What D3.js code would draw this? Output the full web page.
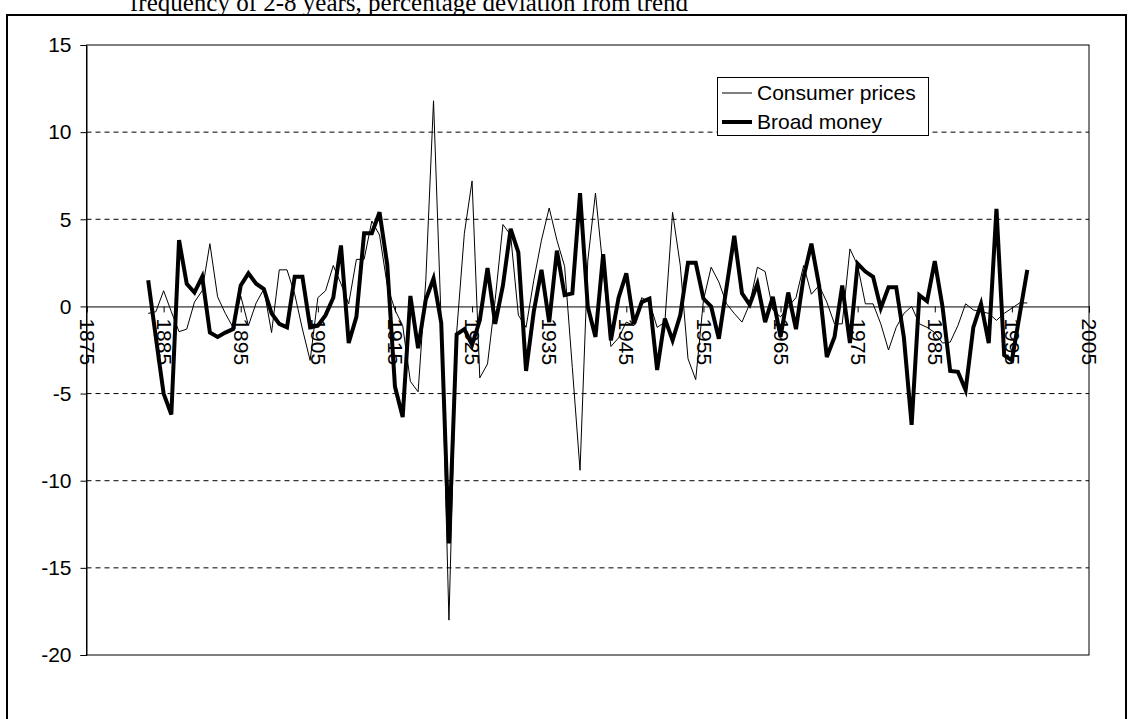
<!DOCTYPE html>
<html><head><meta charset="utf-8">
<script src="https://cdn.jsdelivr.net/npm/d3@7"></script>
<style>body{margin:0;background:#fff}svg{display:block}</style>
</head><body>
<svg id="c" width="1131" height="719"></svg>
<script>
const title = "frequency of 2-8 years, percentage deviation from trend";
const startYear = 1883;
const consumerPrices = [
 -0.4,-0.3,0.9,-0.3,-1.45,-1.3,0.25,0.9,3.6,0.55,
 -0.4,-1.2,0.6,-1.1,0.2,1.0,-1.5,2.1,2.1,0.7,
 -1.3,-3.1,0.5,0.9,2.35,1.3,0.15,2.7,2.7,4.9,
 4.1,1.2,-0.2,-1.1,-4.3,-4.9,1.5,11.8,-1.0,-18.0,
 -1.5,4.2,7.2,-4.1,-3.3,0.4,4.7,4.1,-0.5,-1.2,
 1.5,3.8,5.65,3.8,2.3,-3.5,-9.4,2.6,6.5,2.1,
 -2.3,-1.8,-0.9,-1.1,0.5,0.25,-1.2,-0.9,5.4,2.35,
 -3.0,-4.2,0.35,2.25,1.4,0.15,-0.4,-0.9,0.15,2.25,
 2.0,-0.2,-0.6,0.0,0.5,2.35,0.7,1.2,0.25,-1.0,
 -1.0,3.3,2.35,0.15,0.15,-1.0,-2.5,-1.2,-0.4,0.0,
 -1.0,-1.2,-1.5,-2.1,-2.05,-1.1,0.15,-0.2,-0.3,-0.4,
 -0.8,-0.4,-0.1,0.2,0.2
];
const broadMoney = [
 1.5,-1.8,-5.0,-6.2,3.8,1.3,0.8,1.7,-1.5,-1.75,
 -1.5,-1.3,1.2,1.9,1.3,1.0,-0.4,-1.0,-1.2,1.7,
 1.7,-1.2,-1.1,-0.5,0.5,3.5,-2.1,-0.6,4.2,4.2,
 5.4,2.4,-4.6,-6.35,0.6,-2.4,0.4,1.6,-0.95,-13.6,
 -1.6,-1.3,-2.2,-0.8,2.2,-1.0,1.2,4.45,3.1,-3.7,
 -0.3,2.1,-0.9,3.2,0.65,0.75,6.5,0.0,-1.75,3.0,
 -1.95,0.5,1.9,-1.0,0.25,0.45,-3.65,-0.7,-1.95,-0.5,
 2.5,2.5,0.45,0.0,-1.85,1.1,4.05,0.75,0.1,1.3,
 -0.9,0.55,-1.75,0.8,-1.3,1.7,3.6,1.2,-2.9,-1.75,
 1.2,-2.1,2.45,2.0,1.7,-0.1,1.1,1.1,-1.8,-6.8,
 0.65,0.3,2.6,0.0,-3.7,-3.75,-4.8,-1.2,0.15,-2.1,
 5.6,-2.8,-3.1,-0.5,2.1
];
const xTicks = [1875,1885,1895,1905,1915,1925,1935,1945,1955,1965,1975,1985,1995,2005];
const yTicks = [15,10,5,0,-5,-10,-15,-20];
const seriesNames = ["Consumer prices","Broad money"];

const svg = d3.select("#c");
const x = d3.scaleLinear().domain([1875,2005]).range([86.5,1089]);
const y = d3.scaleLinear().domain([-20,15]).range([655,45]);
const font = "Arial, 'Liberation Sans', sans-serif";
const fmt = d => String(d);

// outer frame
svg.append("rect").attr("x",7).attr("y",15).attr("width",1119).attr("height",730)
  .attr("fill","none").attr("stroke","#000").attr("stroke-width",2);

// title (cut at top)
svg.append("text").attr("x",130).attr("y",11)
  .attr("font-family","'Liberation Serif', 'Times New Roman', serif").attr("font-size",25)
  .text(title);

// gridlines
svg.append("g").selectAll("line").data(yTicks.filter(d=>d!==0 && d!==15 && d!==-20)).join("line")
  .attr("x1",x(1875)).attr("x2",x(2005)).attr("y1",d=>y(d)).attr("y2",d=>y(d))
  .attr("stroke","#000").attr("stroke-width",1).attr("stroke-dasharray","5,4");

// plot area border
svg.append("rect").attr("x",x(1875)).attr("y",y(15)).attr("width",x(2005)-x(1875)).attr("height",y(-20)-y(15))
  .attr("fill","none").attr("stroke","#000").attr("stroke-width",1);

// y axis
const yAxis = svg.append("g").attr("transform",`translate(${x(1875)},0)`)
  .call(d3.axisLeft(y).tickValues(yTicks).tickSize(6).tickFormat(fmt));
yAxis.select(".domain").attr("stroke","#000");
yAxis.selectAll("text").attr("font-family",font).attr("font-size",21).attr("fill","#000").attr("x",-15);

// x axis at zero
const xAxis = svg.append("g").attr("transform",`translate(0,${y(0)})`)
  .call(d3.axisBottom(x).tickValues(xTicks).tickSize(6).tickFormat(fmt));
xAxis.select(".domain").attr("stroke","#000");
xAxis.selectAll("text").attr("font-family",font).attr("font-size",21).attr("fill","#000")
  .attr("transform","rotate(90)").attr("text-anchor","start").attr("x",12).attr("y",0).attr("dy","0.35em");

// lines
const line = d3.line().x((d,i)=>x(startYear+i)).y(d=>y(d));
svg.append("path").datum(consumerPrices).attr("d",line).attr("fill","none").attr("stroke","#000").attr("stroke-width",1);
svg.append("path").datum(broadMoney).attr("d",line).attr("fill","none").attr("stroke","#000").attr("stroke-width",4).attr("stroke-linejoin","miter");

// legend
const lg = svg.append("g");
lg.append("rect").attr("x",717.5).attr("y",77.5).attr("width",211).attr("height",58).attr("fill","#fff").attr("stroke","#000");
const items = [{n:seriesNames[0],w:1},{n:seriesNames[1],w:4}];
items.forEach((it,i)=>{
  const yy = 93 + i*29;
  lg.append("line").attr("x1",722).attr("x2",752).attr("y1",yy).attr("y2",yy).attr("stroke","#000").attr("stroke-width",it.w);
  lg.append("text").attr("x",757).attr("y",yy+7).attr("font-family",font).attr("font-size",21).text(it.n);
});
</script>
</body></html>
